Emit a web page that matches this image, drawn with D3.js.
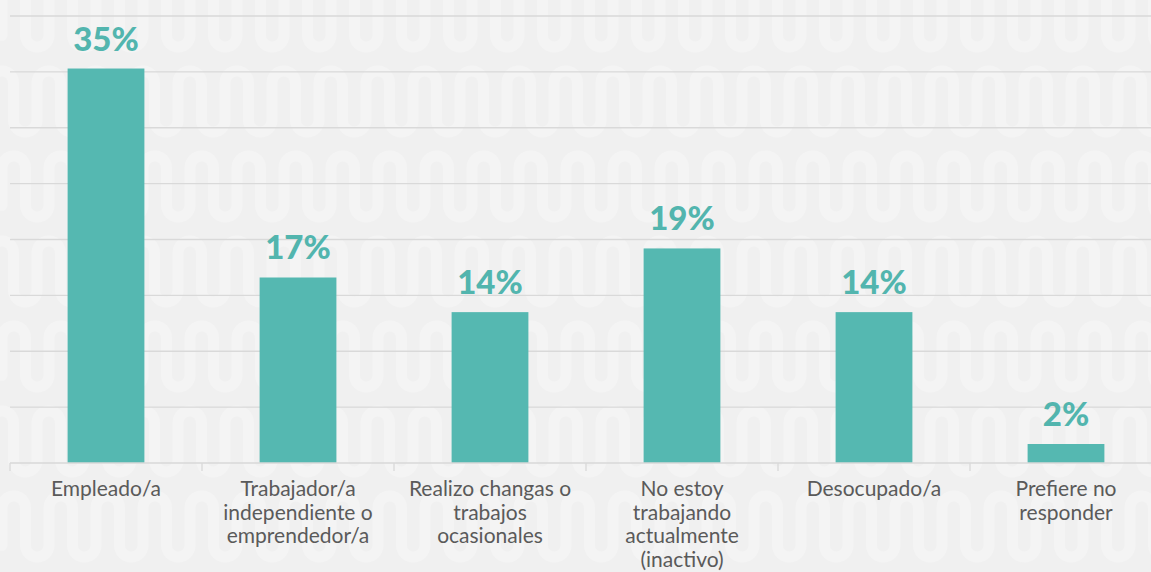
<!DOCTYPE html>
<html>
<head>
<meta charset="utf-8">
<script src="https://cdn.jsdelivr.net/npm/d3@7"></script>
<style>
  html, body { margin: 0; padding: 0; background: #f0f0f0; }
  svg { display: block; }
</style>
</head>
<body>
<svg id="chart" width="1151" height="572"></svg>
<script>
// ---- data ----
const categories = [
  "Empleado/a",
  "Trabajador/a\nindependiente o\nemprendedor/a",
  "Realizo changas o\ntrabajos\nocasionales",
  "No estoy\ntrabajando\nactualmente\n(inactivo)",
  "Desocupado/a",
  "Prefiere no\nresponder"
];
const values = [35.3, 16.6, 13.5, 19.2, 13.5, 1.7];
const valueLabels = ["35%", "17%", "14%", "19%", "14%", "2%"];
const yTicks = [0, 5, 10, 15, 20, 25, 30, 35, 40];

// ---- layout ----
const W = 1151, H = 572;
const svg = d3.select("#chart");
const left = 10, bandW = 192;
const x = d3.scaleBand().domain(categories).range([left, left + bandW * categories.length]).paddingInner(0.6).paddingOuter(0.3);
const y = d3.scaleLinear().domain([0, 40]).range([463, 16]);

// background
svg.append("rect").attr("width", W).attr("height", H).attr("fill", "#f0f0f0");

// decorative serpentine watermark
const deco = svg.append("g").attr("fill", "none").attr("stroke", "#f4f4f4")
  .attr("stroke-width", 11).attr("stroke-linecap", "round");
const r = 11.75;
for (let k = 0; k < 8; k++) {
  const t = -14 + 85 * k, b = t + 61;
  const x0 = (k % 2 ? -10 : 2);
  let p = `M${x0},${b - r}`;
  let cx = x0, up = true;
  while (cx < W + 30) {
    if (up) {
      p += ` L${cx},${t + r} A${r},${r} 0 0 1 ${cx + 2 * r},${t + r}`;
    } else {
      p += ` L${cx},${b - r} A${r},${r} 0 0 0 ${cx + 2 * r},${b - r}`;
    }
    cx += 2 * r; up = !up;
  }
  deco.append("path").attr("d", p);
}

// gridlines
svg.append("g").selectAll("line").data(yTicks.slice(1)).join("line")
  .attr("x1", left).attr("x2", W)
  .attr("y1", d => y(d)).attr("y2", d => y(d))
  .attr("stroke", "#d9d9d9").attr("stroke-width", 1.3);

// bars
svg.append("g").selectAll("rect").data(values).join("rect")
  .attr("x", (d, i) => x(categories[i]))
  .attr("width", x.bandwidth())
  .attr("y", d => y(d))
  .attr("height", d => y(0) - y(d))
  .attr("fill", "#55b8b1");

// x axis line + ticks
const axisY = y(0);
svg.append("line").attr("x1", left).attr("x2", W).attr("y1", axisY).attr("y2", axisY)
  .attr("stroke", "#d9d9d9").attr("stroke-width", 1.3);
const boundaries = d3.range(categories.length + 1).map(i => left + i * bandW);
svg.append("g").selectAll("line").data(boundaries).join("line")
  .attr("x1", d => d).attr("x2", d => d)
  .attr("y1", axisY).attr("y2", axisY + 8)
  .attr("stroke", "#d9d9d9").attr("stroke-width", 1.3);

// value labels
svg.append("g").selectAll("text").data(values).join("text")
  .attr("x", (d, i) => x(categories[i]) + x.bandwidth() / 2)
  .attr("y", d => y(d) - 18)
  .attr("text-anchor", "middle")
  .attr("font-family", "Lato, sans-serif")
  .attr("font-weight", 900)
  .attr("font-size", 33)
  .attr("fill", "#52b5ae")
  .text((d, i) => valueLabels[i]);

// category labels
const catG = svg.append("g");
categories.forEach(c => {
  const t = catG.append("text")
    .attr("x", x(c) + x.bandwidth() / 2)
    .attr("y", axisY + 33)
    .attr("text-anchor", "middle")
    .attr("font-family", "Lato, sans-serif")
    .attr("font-size", 21)
    .attr("fill", "#5a5a5a");
  c.split("\n").forEach((line, j) => {
    t.append("tspan").attr("x", x(c) + x.bandwidth() / 2).attr("dy", j === 0 ? 0 : 23.5).text(line);
  });
});
</script>
</body>
</html>
